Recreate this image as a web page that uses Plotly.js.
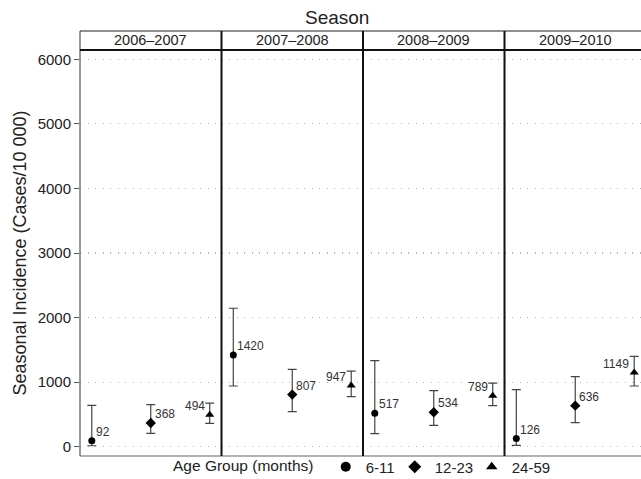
<!DOCTYPE html>
<html>
<head>
<meta charset="utf-8">
<script src="https://cdn.plot.ly/plotly-3.0.1.min.js"></script>
<style>
html, body { margin: 0; padding: 0; overflow: hidden; background: #fff; }
#chart { width: 670px; height: 500px; }
</style>
</head>
<body>
<div id="chart"></div>
<script>
// ---- Data ----
const seasons = ['2006–2007', '2007–2008', '2008–2009', '2009–2010'];
const ageGroups = ['6-11', '12-23', '24-59'];
const yTicks = [0, 1000, 2000, 3000, 4000, 5000, 6000];

const inc611 = [92, 1420, 517, 126];
const lower611 = [15, 940, 202, 20];
const upper611 = [641, 2144, 1333, 884];

const inc1223 = [368, 807, 534, 636];
const lower1223 = [206, 542, 330, 372];
const upper1223 = [651, 1198, 868, 1085];

const inc2459 = [494, 947, 789, 1149];
const lower2459 = [361, 775, 636, 940];
const upper2459 = [676, 1172, 986, 1400];

// ---- Build ----
const groups = [
  { name: ageGroups[0], val: inc611, lo: lower611, hi: upper611, symbol: 'circle', size: 7, legSize: 10, legW: 24, side: 'right' },
  { name: ageGroups[1], val: inc1223, lo: lower1223, hi: upper1223, symbol: 'diamond', size: 8, legSize: 10, legW: 32, side: 'right' },
  { name: ageGroups[2], val: inc2459, lo: lower2459, hi: upper2459, symbol: 'triangle-up', size: 8, legSize: 10, legW: 38, side: 'left' }
];

const FONT = '"Liberation Sans", Arial, Helvetica, sans-serif';
const traces = [];
const labelAnns = [];
groups.forEach(g => {
  seasons.forEach((s, i) => {
    const xa = i === 0 ? 'x' : 'x' + (i + 1);
    traces.push({
      type: 'scatter',
      mode: 'markers',
      x: [g.name],
      y: [g.val[i]],
      name: g.name,
      showlegend: false,
      xaxis: xa,
      yaxis: 'y',
      marker: { symbol: g.symbol, size: g.size, color: '#000' },
      error_y: {
        type: 'data',
        symmetric: false,
        array: [g.hi[i] - g.val[i]],
        arrayminus: [g.val[i] - g.lo[i]],
        color: '#444',
        thickness: 1.2,
        width: 4.5
      },
      cliponaxis: false,
      hoverinfo: 'skip'
    });
    labelAnns.push({
      xref: xa, yref: 'y',
      x: ageGroups.indexOf(g.name), y: g.val[i],
      text: String(g.val[i]),
      showarrow: false,
      xanchor: g.side === 'right' ? 'left' : 'right',
      yanchor: 'middle',
      xshift: g.side === 'right' ? 2 : -3,
      yshift: 9,
      font: { family: FONT, size: 12, color: '#333' }
    });
  });
});
// legend-only entries
groups.forEach(g => {
  traces.push({
    type: 'scatter', mode: 'markers',
    x: [null], y: [null],
    name: g.name, showlegend: true, legendwidth: g.legW,
    marker: { symbol: g.symbol, size: g.legSize, color: '#000' },
    hoverinfo: 'skip'
  });
});

const layout = {
  width: 670,
  height: 500,
  margin: { l: 80, r: 24, t: 50, b: 44 },
  paper_bgcolor: '#fff',
  plot_bgcolor: '#fff',
  font: { family: FONT, color: '#222' },
  showlegend: true,
  legend: {
    orientation: 'h',
    x: 0.5, xanchor: 'center',
    y: -0.027, yanchor: 'middle',
    font: { family: FONT, size: 15, color: '#222' },
    title: { text: 'Age Group (months) ', side: 'left', font: { family: FONT, size: 15.5, color: '#222' } },
    itemwidth: 30,
    tracegroupgap: 0,
    bgcolor: 'rgba(0,0,0,0)'
  },
  yaxis: {
    range: [-144, 6144],
    tickvals: yTicks,
    ticktext: yTicks.map(String),
    ticks: 'outside',
    ticklen: 5,
    tickcolor: '#555',
    tickfont: { family: FONT, size: 15, color: '#222' },
    showgrid: true,
    gridcolor: '#b5b5b5',
    gridwidth: 1.2,
    griddash: '1.2px,6.3px',
    zeroline: false,
    showline: false,
    anchor: 'x',
    title: { text: 'Seasonal Incidence (Cases/10 000)', font: { family: FONT, size: 18, color: '#222' }, standoff: 6 }
  },
  shapes: [],
  annotations: labelAnns
};

const stripTop = 1 + 19 / 406;
seasons.forEach((s, i) => {
  const key = i === 0 ? 'xaxis' : 'xaxis' + (i + 1);
  layout[key] = {
    domain: [i * 0.25, (i + 1) * 0.25],
    type: 'category',
    categoryorder: 'array',
    categoryarray: ageGroups,
    range: [-0.2, 2.2],
    showticklabels: false,
    showgrid: false,
    zeroline: false,
    showline: false,
    ticks: '',
    anchor: 'y'
  };
  layout.annotations.push({
    xref: 'paper', yref: 'paper',
    x: i * 0.25 + 0.125, y: (1 + stripTop) / 2,
    xanchor: 'center', yanchor: 'middle',
    text: s, showarrow: false,
    font: { family: FONT, size: 14.5, color: '#222' }
  });
});

// Season title
layout.annotations.push({
  xref: 'paper', yref: 'paper', x: 0.454, y: 1.081,
  xanchor: 'center', yanchor: 'middle',
  text: 'Season', showarrow: false,
  font: { family: FONT, size: 19, color: '#222' }
});

// Frame shapes
layout.shapes.push(
  { type: 'line', xref: 'paper', yref: 'paper', x0: 0, x1: 1, y0: 0, y1: 0, line: { color: '#666', width: 1.2 } },
  { type: 'line', xref: 'paper', yref: 'paper', x0: 0, x1: 0, y0: 0, y1: stripTop, line: { color: '#555', width: 1.2 } },
  { type: 'line', xref: 'paper', yref: 'paper', x0: 0, x1: 1, y0: stripTop, y1: stripTop, line: { color: '#222', width: 1.2 } },
  { type: 'line', xref: 'paper', yref: 'paper', x0: 0, x1: 1, y0: 1, y1: 1, line: { color: '#111', width: 1.8 } }
);
[0.25, 0.5, 0.75].forEach(x => {
  layout.shapes.push({ type: 'line', xref: 'paper', yref: 'paper', x0: x, x1: x, y0: 0, y1: stripTop, line: { color: '#111', width: 2 } });
});

Plotly.newPlot('chart', traces, layout, { displayModeBar: false, staticPlot: true });
</script>
</body>
</html>
